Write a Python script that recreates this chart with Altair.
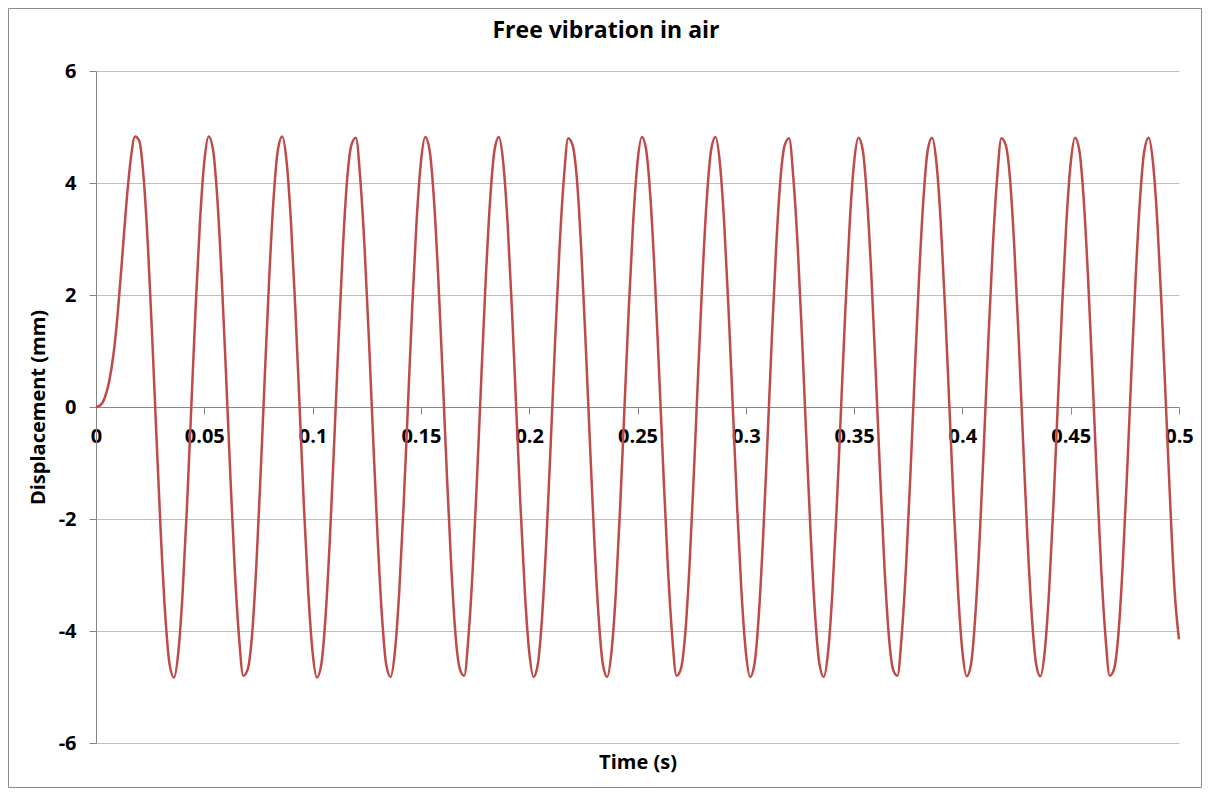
import altair as alt
import pandas as pd

chart_title = "Free vibration in air"
x_title = "Time (s)"
y_title = "Displacement (mm)"
x_ticks = [0, 0.05, 0.1, 0.15, 0.2, 0.25, 0.3, 0.35, 0.4, 0.45, 0.5]
y_ticks = [-6, -4, -2, 0, 2, 4, 6]
time_step = 0.002  # sampling interval of the recorded signal (s)

# displacement (mm), one value per sample
start = [0.00, 0.03, 0.16, 0.44, 0.92, 1.66, 2.62, 3.62, 4.41, 4.83]
cycles_1 = [4.75, 4.09, 2.85, 1.20, -0.61, -2.33, -3.73, -4.60, -4.83, -4.38,
            -3.31, -1.78, 0.00, 1.78, 3.31, 4.38, 4.83, 4.60, 3.73, 2.33,
            0.61, -1.20, -2.85, -4.09, -4.80, -4.69, -4.09, -2.85, -1.20, 0.61,
            2.33, 3.73, 4.60, 4.83, 4.38, 3.31, 1.78, 0.00, -1.78, -3.31,
            -4.38, -4.83, -4.60, -3.73, -2.33, -0.61, 1.20, 2.85, 4.09, 4.69]
cycles_2 = [4.81, 4.08, 2.84, 1.21, -0.60, -2.32, -3.72, -4.60, -4.82, -4.37,
            -3.30, -1.77, 0.01, 1.79, 3.31, 4.37, 4.82, 4.59, 3.72, 2.32,
            0.60, -1.21, -2.84, -4.08, -4.68, -4.80, -4.08, -2.84, -1.19, 0.62,
            2.33, 3.72, 4.59, 4.82, 4.37, 3.30, 1.77, -0.01, -1.79, -3.31,
            -4.37, -4.82, -4.59, -3.72, -2.32, -0.60, 1.21, 2.84, 4.08, 4.80]
cycles_3 = [4.68, 4.08, 2.83, 1.19, -0.61, -2.33, -3.72, -4.59, -4.82, -4.37,
            -3.31, -1.78, 0.00, 1.78, 3.30, 4.37, 4.82, 4.59, 3.72, 2.32,
            0.60, -1.20, -2.84, -4.08, -4.80, -4.68, -4.07, -2.84, -1.20, 0.60,
            2.32, 3.72, 4.59, 4.82, 4.37, 3.30, 1.77, 0.00, -1.78, -3.30,
            -4.37, -4.82, -4.59, -3.72, -2.32, -0.60, 1.20, 2.84, 4.07, 4.68]
cycles_4 = [4.80, 4.07, 2.84, 1.20, -0.60, -2.32, -3.72, -4.59, -4.82, -4.37,
            -3.30, -1.77, 0.00, 1.77, 3.30, 4.37, 4.81, 4.59, 3.71, 2.32,
            0.61, -1.20, -2.84, -4.07, -4.69, -4.80, -4.07, -2.83, -1.20, 0.60,
            2.32, 3.71, 4.59, 4.81, 4.37, 3.30, 1.77, 0.00, -1.77, -3.30,
            -4.37, -4.81, -4.59, -3.71, -2.32, -0.60, 1.20, 2.83, 4.07, 4.80]
cycles_5 = [4.68, 4.07, 2.83, 1.20, -0.60, -2.32, -3.71, -4.58, -4.81, -4.37,
            -3.30, -1.77, 0.00, 1.77, 3.30, 4.36, 4.81, 4.58, 3.71, 2.32,
            0.60, -1.20, -2.83, -4.07, -4.80, -4.68, -4.07, -2.83, -1.20, 0.60,
            2.32, 3.71, 4.58, 4.81, 4.36, 3.30, 1.77, 0.00, -1.77, -3.30,
            -4.15]

displacement = start + cycles_1 + cycles_2 + cycles_3 + cycles_4 + cycles_5
times = [round(i * time_step, 3) for i in range(len(displacement))]

df = pd.DataFrame({"t": times, "d": displacement})

FONT = "Open Sans"
FS = 20
AXIS_GRAY = "#868686"
GRID_GRAY = "#bfbfbf"
W, H = 1083, 672

line = alt.Chart(df).mark_line(
    color="#BE4B48", strokeWidth=2.5, interpolate="monotone"
).encode(
    x=alt.X(
        "t:Q",
        scale=alt.Scale(domain=[0, 0.5], nice=False, zero=False),
        axis=alt.Axis(
            values=x_ticks, grid=False, offset=-336,
            labelExpr="toString(datum.value)",
            domainColor=AXIS_GRAY, tickColor=AXIS_GRAY, tickSize=7,
            labelFont=FONT, labelFontSize=FS, labelFontWeight="bold", labelColor="#000000",
            labelPadding=12, labelFlush=False, labelOverlap=False,
            title=x_title, titleFont=FONT, titleFontSize=FS, titleFontWeight="bold",
            titleColor="#000000", titleX=W / 2, titleY=355, titleBaseline="middle",
        ),
    ),
    y=alt.Y(
        "d:Q",
        scale=alt.Scale(domain=[-6, 6], nice=False),
        axis=alt.Axis(
            values=y_ticks, grid=True, gridColor=GRID_GRAY, gridWidth=1,
            labelExpr="toString(datum.value)",
            domainColor=AXIS_GRAY, tickColor=AXIS_GRAY, tickSize=7,
            labelFont=FONT, labelFontSize=FS, labelFontWeight="bold", labelColor="#000000",
            labelPadding=13, labelFlush=False, labelOverlap=False,
            title=y_title, titleFont=FONT, titleFontSize=FS, titleFontWeight="bold",
            titleColor="#000000", titleX=-58, titleY=H / 2, titleAngle=270,
            titleAlign="center", titleBaseline="middle",
        ),
    ),
)

title_mark = alt.Chart(pd.DataFrame({"label": [chart_title]})).mark_text(
    font=FONT, fontSize=23, fontWeight="bold", color="#000000",
    align="center", baseline="middle",
).encode(x=alt.value(510), y=alt.value(-40), text="label:N")

border = alt.Chart(pd.DataFrame({"a": [0]})).mark_rect(
    fill="transparent", stroke="#8c8c8c", strokeWidth=1,
).encode(x=alt.value(-87.5), x2=alt.value(1105.5), y=alt.value(-62.5), y2=alt.value(716.5))

chart = alt.layer(border, line, title_mark).properties(
    width=W, height=H,
    padding={"left": 88, "top": 63, "right": 23, "bottom": 45},
    autosize=alt.AutoSizeParams(type="none"),
    background="white",
).configure_view(stroke=None)

chart.save("out.html", embed_options={"renderer": "svg", "actions": False})
